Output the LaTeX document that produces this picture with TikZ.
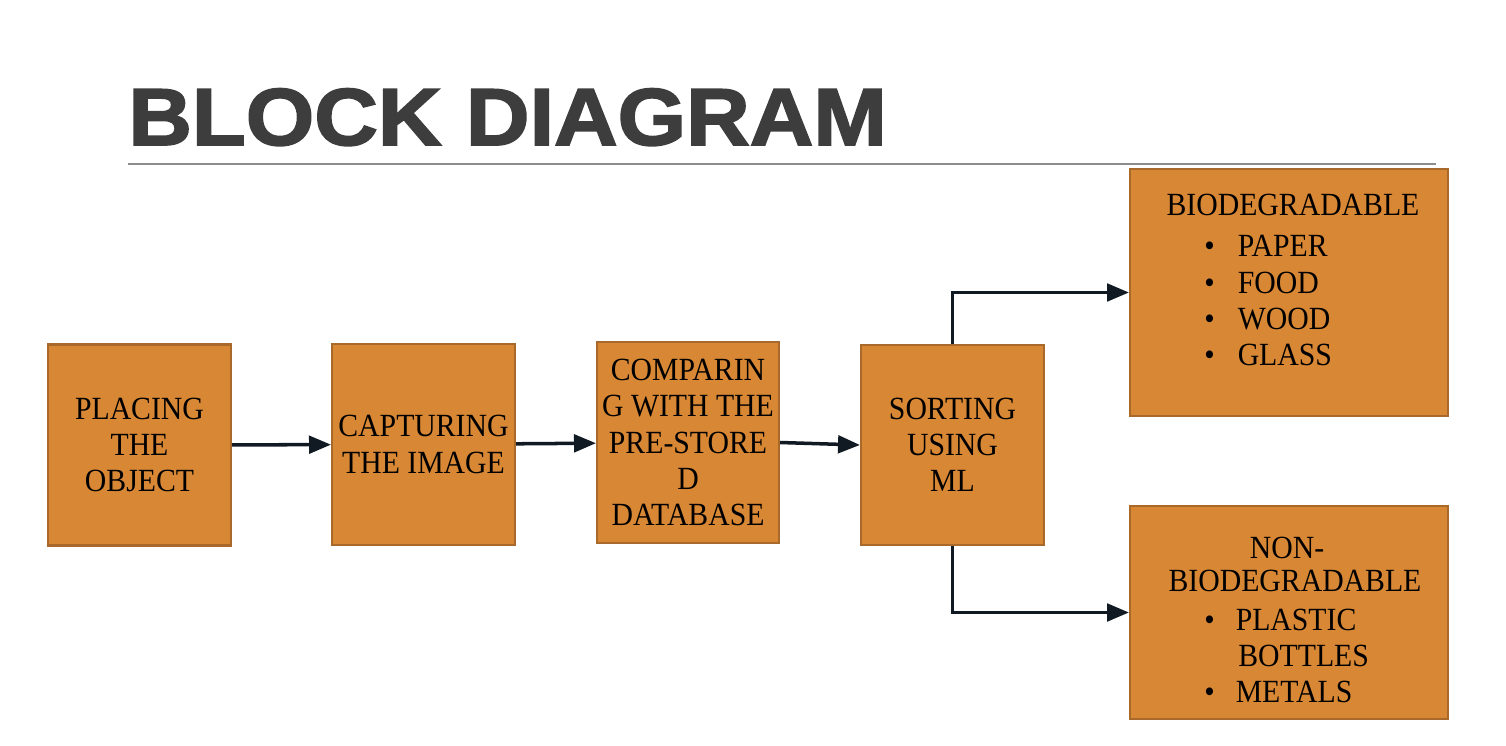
\documentclass[tikz,border=0pt]{standalone}
\usepackage{fontspec}
\setmainfont[FakeStretch=0.92]{Liberation Serif}
\newfontfamily\titlefont[FakeStretch=1.09,FakeBold=2.2]{Liberation Sans}
\usetikzlibrary{arrows.meta}
\definecolor{blockfill}{HTML}{D88735}
\definecolor{blockdraw}{HTML}{A8692B}
\definecolor{flowcol}{HTML}{111A22}
\definecolor{titlecol}{HTML}{3D3D3D}
\definecolor{rulecol}{HTML}{8C8C8C}
\tikzset{
        % Process blocks
        node_block/.style={rectangle, draw=blockdraw, fill=blockfill, line width=1.2pt, align=center, inner sep=0pt, minimum width=3.66cm, minimum height=4.02cm, font=\fontsize{18.4}{20.6}\selectfont},
        % Result blocks
        node_result/.style={node_block, minimum width=6.36cm},
        % Text inside result blocks
        node_text/.style={inner sep=0pt, font=\fontsize{18.4}{20.6}\selectfont},
        % List items
        node_item/.style={node_text, anchor=west},
        % Arrows
        flow/.style={-{Triangle[length=12.5pt,width=10pt]}, line width=2pt, draw=flowcol}
}
\begin{document}
\begin{tikzpicture}[x=0.02cm, y=-0.02cm]
            \useasboundingbox (0,0) rectangle (1506,746);
            % Title
            \node[anchor=base west, inner sep=0pt, text=titlecol, font=\titlefont\bfseries\fontsize{46}{50}\selectfont] (title) at (128,145) {BLOCK DIAGRAM};
            \draw[rulecol, line width=0.6pt] (128,164) -- (1436,164);
            % Process chain
            \node[node_block] (place) at (139.5,445) {PLACING\\THE\\OBJECT};
            \node[node_block] (capture) at (423.5,444.5) {CAPTURING\\THE IMAGE};
            \node[node_block, minimum width=3.64cm] (compare) at (688,442.5) {COMPARIN\\G WITH THE\\PRE-STORE\\D\\DATABASE};
            \node[node_block, minimum height=4cm] (sort) at (952.5,445) {SORTING\\USING\\ML};
            % Results
            \node[node_result, minimum height=4.94cm] (bio) at (1289,292.5) {};
            \node[node_text] (bio_head) at (1293,205) {BIODEGRADABLE};
            \node[node_item] (bio_paper) at (1204,246) {\textbullet\hspace{0.46cm}PAPER};
            \node[node_item] (bio_food) at (1204,283) {\textbullet\hspace{0.46cm}FOOD};
            \node[node_item] (bio_wood) at (1204,319) {\textbullet\hspace{0.46cm}WOOD};
            \node[node_item] (bio_glass) at (1204,355) {\textbullet\hspace{0.46cm}GLASS};
            \node[node_result, minimum height=4.26cm] (nonbio) at (1289,612.5) {};
            \node[node_text] (nonbio_head) at (1287,548) {NON-};
            \node[node_text] (nonbio_head2) at (1295,581) {BIODEGRADABLE};
            \node[node_item] (nonbio_plastic) at (1204,620) {\textbullet\hspace{0.42cm}PLASTIC};
            \node[node_item] (nonbio_bottles) at (1238,656) {BOTTLES};
            \node[node_item] (nonbio_metals) at (1204,692) {\textbullet\hspace{0.42cm}METALS};
            % Connectors
            \draw[flow] (place) -- (capture);
            \draw[flow] (capture) -- (compare);
            \draw[flow] (compare.east) -- (sort.west);
            \draw[flow] (sort.north) |- (bio.west);
            \draw[flow] (sort.south) |- (nonbio.west);
\end{tikzpicture}
\end{document}
